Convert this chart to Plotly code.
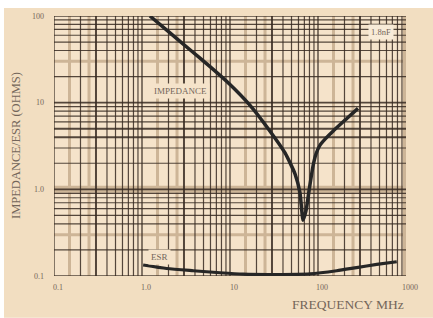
import math
import plotly.graph_objects as go

# ---- data ----
imp_freq = [1.23, 2.08, 3.51, 5.93, 10.0, 16.9, 28.5, 42.2, 54.8, 62.4, 67.6, 73.1, 79.1, 87.8, 94.9, 105.4, 123.3, 148, 214, 285]
imp_ohms = [100, 63.9, 40.8, 26.0, 16.2, 9.31, 4.69, 2.63, 1.51, 0.914, 0.44, 0.569, 0.964, 1.86, 2.56, 3.24, 3.90, 4.69, 6.61, 8.6]

esr_freq = [1.03, 1.91, 3.83, 7.7, 14.1, 34, 81, 163, 274, 465, 785]
esr_ohms = [0.134, 0.122, 0.115, 0.109, 0.105, 0.104, 0.106, 0.115, 0.125, 0.136, 0.146]

x_tickvals = [0.1, 1, 10, 100, 1000]
x_ticktext = ["0.1", "1.0", "10", "100", "1000"]
y_tickvals = [0.1, 1, 10, 100]
y_ticktext = ["0.1", "1.0", "10", "100"]

x_decades = [0.1, 1, 10, 100]
x_dark_mult = [2, 4, 5, 6, 7, 8, 9]
x_thick_mult = [3]
x_tan_mult = [1.5, 2.5]

y_dark = [0.2, 0.4, 0.5, 0.6, 0.7, 0.8, 0.9, 2, 3, 6, 7, 8, 9, 20, 40, 50, 60, 70, 80, 90]
y_thick = [4, 5]
y_tan = [0.3, 30]
y_tan_wide = [1.0]

label_imp = "IMPEDANCE"
label_esr = "ESR"
label_cap = "1.8nF"

# ---- styling ----
PEACH = "#F2DEC1"
PLOT_BG = "#F5E3CA"
DARK = "rgba(55,42,34,0.85)"
TAN = "#CDB597"
TXT = "#74665A"
SERIF = "Liberation Serif"

L, R, T, B = 54, 27, 14, 42
W, H = 433, 318
pw, ph = W - L - R, H - T - B

shapes = []
shapes.append(dict(type="rect", xref="paper", yref="paper", layer="below",
                   x0=-L / pw, x1=(W - L) / pw, y0=-B / ph, y1=(ph + T) / ph,
                   fillcolor="white", line_width=0))
shapes.append(dict(type="rect", xref="paper", yref="paper", layer="below",
                   x0=(4 - L) / pw, x1=(W - L) / pw, y0=-B / ph, y1=(ph + T - 6) / ph,
                   fillcolor=PEACH, line_width=0))
shapes.append(dict(type="rect", xref="paper", yref="paper", layer="below",
                   x0=0, x1=1, y0=0, y1=1, fillcolor=PLOT_BG, line_width=0))


def vline(v, color, width):
    shapes.append(dict(type="line", xref="x", yref="paper", layer="below",
                       x0=v, x1=v, y0=0, y1=1,
                       line=dict(color=color, width=width)))


def hline(v, color, width):
    shapes.append(dict(type="line", xref="paper", yref="y", layer="below",
                       x0=0, x1=1, y0=v, y1=v,
                       line=dict(color=color, width=width)))


for d in x_decades:
    for m in x_tan_mult:
        vline(d * m, TAN, 3)
for v in y_tan:
    hline(v, TAN, 3)
for v in y_tan_wide:
    hline(v, TAN, 7)
vline(1000, TAN, 6)

for d in x_decades:
    for m in x_dark_mult:
        vline(d * m, DARK, 1.2)
    for m in x_thick_mult:
        vline(d * m, DARK, 2)
    vline(d, DARK, 1.4)
for v in y_dark:
    hline(v, DARK, 1.2)
for v in y_thick:
    hline(v, DARK, 2)
for v in y_tickvals:
    hline(v, DARK, 1.6)

fig = go.Figure()
fig.add_trace(go.Scatter(x=imp_freq, y=imp_ohms, mode="lines",
                         line=dict(color="#262626", width=3.5, shape="spline", smoothing=0.5),
                         hoverinfo="skip", showlegend=False))
fig.add_trace(go.Scatter(x=esr_freq, y=esr_ohms, mode="lines",
                         line=dict(color="#262626", width=3.2, shape="spline", smoothing=0.6),
                         hoverinfo="skip", showlegend=False))

annotations = [
    dict(x=math.log10(2.77), y=1.13, xref="x", yref="y", text=label_imp, showarrow=False,
         font=dict(family=SERIF, size=9, color=TXT), bgcolor=PLOT_BG, borderpad=2),
    dict(x=math.log10(1.6), y=-0.783, xref="x", yref="y", text=label_esr, showarrow=False,
         font=dict(family=SERIF, size=9, color=TXT), bgcolor=PLOT_BG, borderpad=2),
    dict(x=math.log10(520), y=1.817, xref="x", yref="y", text=label_cap, showarrow=False,
         font=dict(family=SERIF, size=8.5, color=TXT), bgcolor="#F8EBD8", borderpad=2),
    dict(x=1.0, y=(276 - 305) / ph, xref="paper", yref="paper", xanchor="right", yanchor="middle",
         text="FREQUENCY MHz", showarrow=False, font=dict(family=SERIF, size=13.5, color=TXT)),
    dict(x=(16 - L) / pw, y=0.5, xref="paper", yref="paper", xanchor="center", yanchor="middle",
         textangle=-90, text="IMPEDANCE/ESR (OHMS)", showarrow=False,
         font=dict(family=SERIF, size=12.5, color=TXT)),
]

fig.update_layout(
    width=W, height=H,
    margin=dict(l=L, r=R, t=T, b=B),
    paper_bgcolor="white",
    plot_bgcolor="rgba(0,0,0,0)",
    shapes=shapes,
    annotations=annotations,
    xaxis=dict(type="log", range=[-1, 3], showgrid=False, zeroline=False, showline=False,
               tickvals=x_tickvals, ticktext=x_ticktext, ticks="",
               tickfont=dict(family=SERIF, size=8, color=TXT),
               ticklabelstandoff=5, ticklabelshift=4, fixedrange=True),
    yaxis=dict(type="log", range=[-1, 2], showgrid=False, zeroline=False, showline=False,
               tickvals=y_tickvals, ticktext=y_ticktext, ticks="",
               tickfont=dict(family=SERIF, size=8, color=TXT),
               ticklabelstandoff=9, fixedrange=True),
    showlegend=False,
)

fig.write_html("out.html", config={"displayModeBar": False},
               post_script="document.body.style.margin='0';document.body.style.overflow='hidden';")
